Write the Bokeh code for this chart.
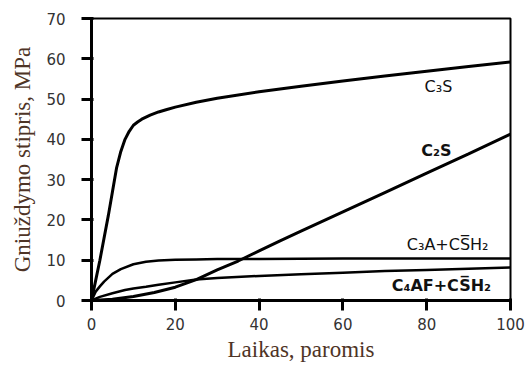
from bokeh.plotting import figure
from bokeh.models import Range1d
from bokeh.core.properties import value
from bokeh.embed import file_html
from bokeh.resources import INLINE

# --- data ---
c3s_t = [0, 1, 2, 3, 4, 5, 6, 7, 8, 9, 10, 11, 12, 14, 16, 18, 20, 25, 30, 40, 50, 60, 70, 80, 90, 100]
c3s_v = [0, 5, 10, 15.5, 21, 27, 33, 37, 40, 42, 43.5, 44.3, 45, 46, 46.8, 47.4, 48, 49.2, 50.2, 51.8, 53.2, 54.5, 55.7, 56.9, 58.1, 59.2]

c2s_t = [0, 5, 10, 15, 20, 25, 30, 35, 40, 45, 50, 60, 70, 80, 90, 100]
c2s_v = [0, 0.3, 1, 2, 3.3, 5.2, 7.6, 9.8, 12.3, 14.8, 17.2, 22, 26.8, 31.6, 36.4, 41.3]

c3a_t = [0, 1, 2, 3, 5, 7, 10, 13, 16, 20, 25, 30, 40, 60, 80, 100]
c3a_v = [0, 2.2, 3.5, 4.7, 6.6, 7.8, 9.0, 9.6, 9.9, 10.1, 10.2, 10.3, 10.3, 10.4, 10.4, 10.4]

c4af_t = [0, 2, 5, 8, 10, 13, 16, 20, 25, 30, 40, 50, 60, 70, 80, 90, 100]
c4af_v = [0, 0.9, 1.8, 2.6, 3.0, 3.4, 3.9, 4.5, 5.2, 5.6, 6.1, 6.5, 6.9, 7.3, 7.6, 7.9, 8.2]

label_text = ["C\u2083S", "C\u2082S", "C\u2083A+CS\u0305H\u2082", "C\u2084AF+CS\u0305H\u2082"]
label_t = [82.8, 82.3, 85, 83.5]
label_v = [53, 37.2, 13.8, 3.7]
label_bold = ["normal", "bold", "normal", "bold"]

x_range_lim = [0, 100]
y_range_lim = [0, 70]

p = figure(width=525, height=369, output_backend="svg", toolbar_location=None,
           x_range=Range1d(*x_range_lim), y_range=Range1d(*y_range_lim),
           min_border_left=91, min_border_top=18, min_border_right=15, min_border_bottom=69)
p.grid.visible = False
p.outline_line_color = "black"
p.outline_line_width = 2

lab_col = "#4e3426"
p.xaxis.axis_line_width = 3
p.yaxis.axis_line_width = 3
p.xaxis.major_tick_out = 10
p.yaxis.major_tick_out = 10
p.xaxis.major_tick_line_width = 3
p.yaxis.major_tick_line_width = 3
p.xaxis.minor_tick_line_color = None
p.yaxis.minor_tick_line_color = None
p.xaxis.major_label_text_font = "DejaVu Sans"
p.yaxis.major_label_text_font = "DejaVu Sans"
p.xaxis.major_label_text_font_size = "15px"
p.yaxis.major_label_text_font_size = "15px"
p.xaxis.major_label_text_color = "#333333"
p.yaxis.major_label_text_color = "#333333"
p.xaxis.axis_label_text_font = "Liberation Serif"
p.yaxis.axis_label_text_font = "Liberation Serif"
p.xaxis.axis_label_text_font_size = "23px"
p.yaxis.axis_label_text_font_size = "23px"
p.xaxis.axis_label_text_font_style = "normal"
p.yaxis.axis_label_text_font_style = "normal"
p.xaxis.axis_label_text_color = lab_col
p.yaxis.axis_label_text_color = lab_col
p.xaxis.axis_label = "Laikas, paromis"
p.yaxis.axis_label = "Gniuždymo stipris, MPa"
p.xaxis.major_label_standoff = 7
p.yaxis.major_label_standoff = 16
p.xaxis.axis_label_standoff = 4
p.yaxis.axis_label_standoff = 8

p.line(c3s_t, c3s_v, line_color="black", line_width=3)
p.line(c2s_t, c2s_v, line_color="black", line_width=3)
p.line(c3a_t, c3a_v, line_color="black", line_width=2.5)
p.line(c4af_t, c4af_v, line_color="black", line_width=2.5)

for txt, t, v, st in zip(label_text, label_t, label_v, label_bold):
    p.text(x=[t], y=[v], text=[txt], text_align="center", text_baseline="middle",
           text_font=value("DejaVu Sans"), text_font_size="16px",
           text_font_style=st, text_color="#111111")

open("out.html", "w").write(file_html(p, INLINE))
